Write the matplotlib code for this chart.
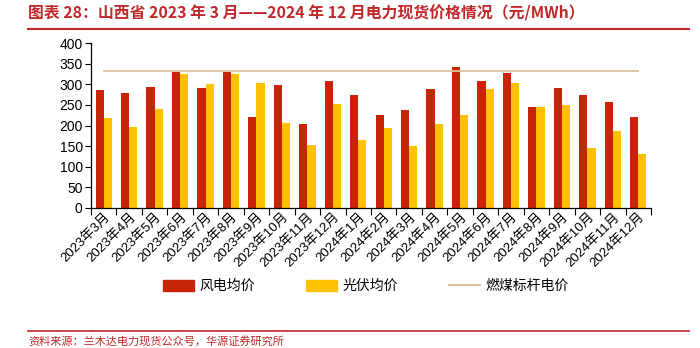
import numpy as np
import matplotlib.pyplot as plt
from matplotlib.lines import Line2D
from matplotlib.patches import Patch

plt.rcParams['font.family'] = ['Liberation Sans', 'Noto Sans CJK SC']

months = ['2023年3月', '2023年4月', '2023年5月', '2023年6月', '2023年7月', '2023年8月',
          '2023年9月', '2023年10月', '2023年11月', '2023年12月', '2024年1月', '2024年2月',
          '2024年3月', '2024年4月', '2024年5月', '2024年6月', '2024年7月', '2024年8月',
          '2024年9月', '2024年10月', '2024年11月', '2024年12月']
wind = [287, 280, 293, 330, 290, 330, 220, 298, 203, 308, 275, 226,
        237, 288, 343, 309, 327, 244, 292, 273, 258, 220]
solar = [217, 197, 241, 326, 301, 326, 304, 207, 153, 251, 166, 193,
         150, 204, 226, 289, 303, 246, 249, 146, 186, 131]
coal = 332

red = '#C82508'
yellow = '#FFC000'
tan = '#DCC29C'

fig = plt.figure(figsize=(7, 3.48), dpi=100)
ax = fig.add_axes([0.13, 0.4023, 0.80, 0.4741])

x = np.arange(len(months))
w = 0.32
ax.bar(x - w / 2, wind, w, color=red)
ax.bar(x + w / 2, solar, w, color=yellow)
ax.plot(x, [coal] * len(x), color=tan, lw=1.3)

ax.set_xlim(-0.5, len(months) - 0.5)
ax.set_ylim(0, 400)
ax.set_yticks(range(0, 401, 50))
ax.tick_params(axis='y', labelsize=10, length=4, width=0.8, pad=2)
ax.set_xticks(np.arange(-0.5, len(months), 1))
ax.set_xticklabels([])
ax.tick_params(axis='x', length=5, width=0.8)
ax.set_xticks(x, minor=True)
ax.set_xticklabels(months, minor=True, rotation=45, ha='right', va='top',
                   rotation_mode='anchor', fontsize=9.5)
ax.tick_params(axis='x', which='minor', length=0, pad=2)
for s in ['top', 'right']:
    ax.spines[s].set_visible(False)
for s in ['left', 'bottom']:
    ax.spines[s].set_linewidth(0.9)

handles = [Patch(color=red), Patch(color=yellow), Line2D([], [], color=tan, lw=1.5)]
labels = ['风电均价', '光伏均价', '燃煤标杆电价']
fig.legend(handles, labels, loc='center', bbox_to_anchor=(0.523, 0.178), ncol=3,
           frameon=False, fontsize=10, handlelength=2.2, handleheight=0.9,
           columnspacing=3.7, handletextpad=0.4)

fig.text(0.04, 0.963, '图表 28：山西省 2023 年 3 月——2024 年 12 月电力现货价格情况（元/MWh）',
         color='#C0282A', fontsize=11.4, fontweight='bold', va='center',
         family=['Noto Sans CJK SC'])
fig.add_artist(Line2D([0.04, 0.984], [0.916, 0.916], color='#C0282A', lw=1.5))
fig.add_artist(Line2D([0.04, 0.984], [0.05, 0.05], color='#C0282A', lw=1.2))
fig.text(0.04, 0.018, '资料来源：兰木达电力现货公众号，华源证券研究所',
         color='#C0282A', fontsize=8, va='center', family=['Noto Sans CJK SC'])

fig.savefig('out.png', dpi=100)
